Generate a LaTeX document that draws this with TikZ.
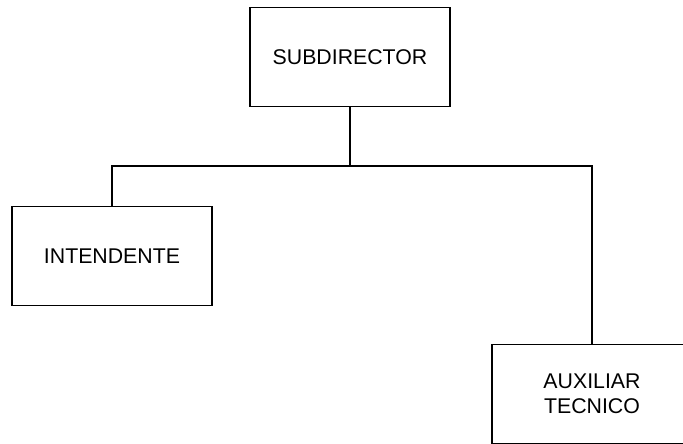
\documentclass[tikz,border=0pt]{standalone}
\usepackage{fontspec}
\setmainfont{Liberation Sans}
\usetikzlibrary{positioning}

\tikzset{
    puesto/.style={draw, line width=1.3pt, minimum width=200pt, minimum height=99pt,
        align=center, inner sep=0pt, font=\fontsize{21.3}{24.5}\selectfont},
    enlace/.style={line width=1.3pt},
}

\begin{document}
\begin{tikzpicture}[x=1pt, y=-1pt] % organigrama de la subdireccion
    \useasboundingbox (0,0) rectangle (683,444);
    \clip (0,0) rectangle (683,444);

    \node[puesto] (sub) at (350,57) {SUBDIRECTOR};
    \node[puesto] (int) at (112,256) {INTENDENTE};
    \node[puesto] (aux) at (592,394) {AUXILIAR\\TECNICO};
    \coordinate (bus) at (350,166);

    \draw[enlace] (sub.south) -- (bus);
    \draw[enlace] (bus) -| (int.north);
    \draw[enlace] (bus) -| (aux.north);
\end{tikzpicture}
\end{document}
